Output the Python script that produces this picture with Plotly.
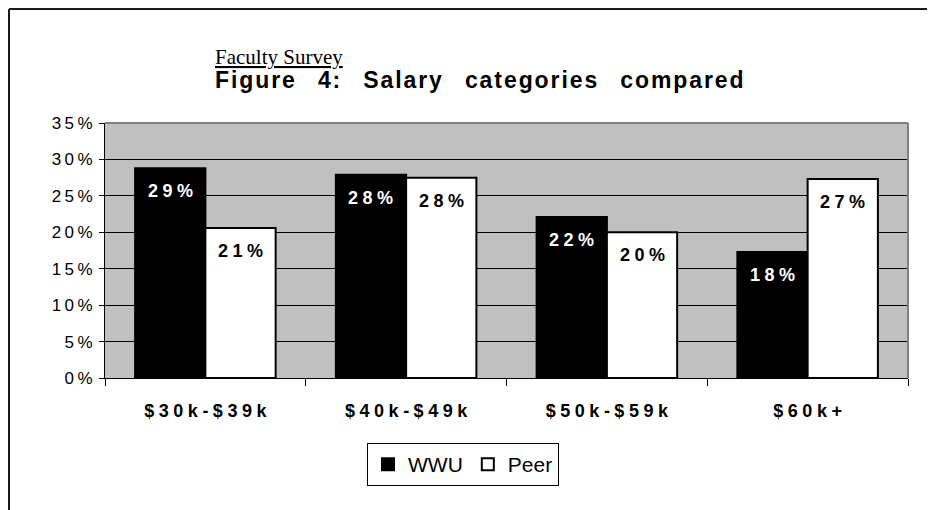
import plotly.graph_objects as go

# data
categories = ["$30k-$39k", "$40k-$49k", "$50k-$59k", "$60k+"]
wwu = [28.8, 27.9, 22.1, 17.3]
peer = [20.6, 27.5, 20.0, 27.3]
wwu_labels = ["29%", "28%", "22%", "18%"]
peer_labels = ["21%", "28%", "20%", "27%"]
y_ticks = [0, 5, 10, 15, 20, 25, 30, 35]
y_tick_labels = ["0%", "5%", "10%", "15%", "20%", "25%", "30%", "35%"]

W, H = 935, 510
OFF = 8  # page body margin
L, T = 105 - OFF, 123 - OFF
PW, PH = 803, 255
R, B = W - L - PW, H - T - PH
FONT = "Liberation Sans, Arial, sans-serif"


def px_x(x):
    return (x - OFF - L) / PW


def px_y(y):
    return (T + PH - (y - OFF)) / PH


def spaced(s, gap="\u2005"):
    # old chart renders text with wide letter spacing
    return gap.join(s)


fig = go.Figure()
fig.add_trace(go.Bar(x=categories, y=wwu, name="WWU",
                     marker=dict(color="black", line=dict(color="black", width=2))))
fig.add_trace(go.Bar(x=categories, y=peer, name="Peer",
                     marker=dict(color="white", line=dict(color="black", width=2))))

ann = []
bw = (1 - 0.3) / 2
for i in range(len(categories)):
    ann.append(dict(x=i - bw / 2, y=wwu[i], xref="x", yref="y", yshift=-23,
                    text=spaced(wwu_labels[i]), showarrow=False, yanchor="middle",
                    font=dict(family=FONT, size=18, color="white", weight="bold")))
    ann.append(dict(x=i + bw / 2, y=peer[i], xref="x", yref="y", yshift=-23,
                    text=spaced(peer_labels[i]), showarrow=False, yanchor="middle",
                    font=dict(family=FONT, size=18, color="black", weight="bold")))

ann.append(dict(x=px_x(213), y=px_y(57), xref="paper", yref="paper", xanchor="left",
                yanchor="middle", showarrow=False, text="Faculty Survey",
                font=dict(family="Liberation Serif, Times New Roman, serif", size=21,
                          color="black", lineposition="under")))
title = "Figure 4: Salary categories compared"
ann.append(dict(x=px_x(213), y=px_y(80), xref="paper", yref="paper", xanchor="left",
                yanchor="middle", showarrow=False,
                text="\u2003".join(spaced(w, "\u200a") for w in title.split()),
                font=dict(family=FONT, size=23, color="black", weight="bold")))

shapes = [
    # outer frame (top and left edges)
    dict(type="line", xref="paper", yref="paper", x0=px_x(9), x1=px_x(950),
         y0=px_y(9), y1=px_y(9), line=dict(color="#1a1a1a", width=2)),
    dict(type="line", xref="paper", yref="paper", x0=px_x(9), x1=px_x(9),
         y0=px_y(9), y1=px_y(530), line=dict(color="#1a1a1a", width=2)),
    # grey plot border top and right
    dict(type="line", xref="paper", yref="paper", x0=0, x1=1, y0=1, y1=1,
         line=dict(color="#808080", width=2)),
    dict(type="line", xref="paper", yref="paper", x0=1, x1=1, y0=0, y1=1,
         line=dict(color="#808080", width=2)),
]

fig.update_layout(
    width=W, height=H,
    margin=dict(l=L, r=R, t=T, b=B, pad=0),
    paper_bgcolor="white", plot_bgcolor="#c0c0c0",
    barmode="group", bargap=0.3, bargroupgap=0,
    annotations=ann, shapes=shapes,
    showlegend=True,
    legend=dict(orientation="h", x=px_x(367), y=px_y(443), xanchor="left", yanchor="top",
                bordercolor="black", borderwidth=1, bgcolor="white",
                font=dict(family=FONT, size=21, color="black"), itemwidth=30),
    xaxis=dict(showline=True, linecolor="black", linewidth=1, ticks="outside",
               tickson="boundaries", ticklen=7, tickcolor="black", showgrid=False,
               tickvals=categories, ticktext=[spaced(c) for c in categories],
               ticklabelstandoff=16,
               tickfont=dict(family=FONT, size=18, color="black", weight="bold")),
    yaxis=dict(range=[0, 35], tickvals=y_ticks,
               ticktext=[spaced(t, "\u2009") for t in y_tick_labels],
               showline=True, linecolor="black", linewidth=1, ticks="outside",
               ticklen=5, tickcolor="black", showgrid=True, gridcolor="black",
               gridwidth=1, zeroline=False, ticklabelstandoff=3,
               tickfont=dict(family=FONT, size=17, color="black")),
)

fig.write_html("out.html")
